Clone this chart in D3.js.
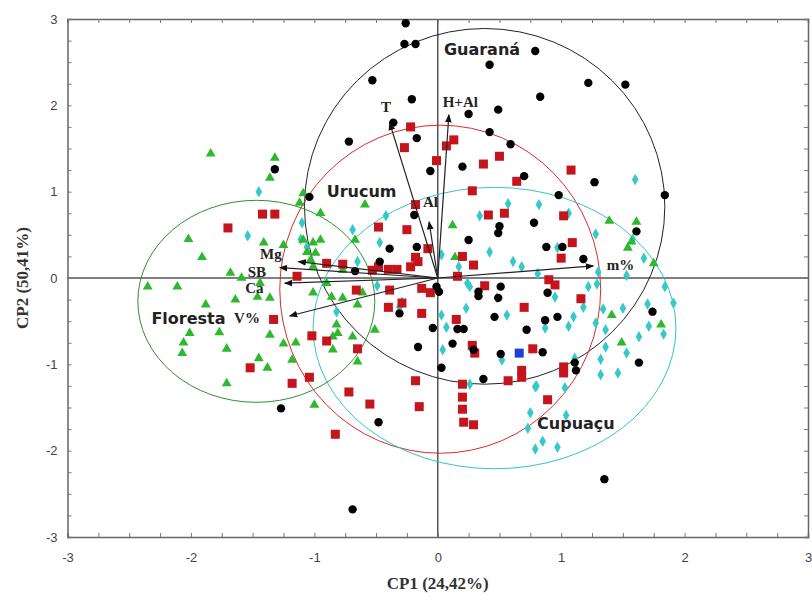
<!DOCTYPE html>
<html>
<head>
<meta charset="utf-8">
<script src="https://cdn.jsdelivr.net/npm/d3@7"></script>
<style>
  body { margin: 0; background: #fff; }
  svg { display: block; }
</style>
</head>
<body>
<svg></svg>
<script>
// CP1 / CP2 scores
const guarana = [
  [-0.26,2.95],[-0.27,2.71],[-0.18,2.71],[0.79,2.63],[0.42,2.47],[-0.53,2.29],[-0.21,2.07],[0.83,2.10],
  [0.25,1.90],[0.49,1.95],[-0.36,1.80],[-0.72,1.58],[-0.17,1.62],[0.42,1.69],[0.59,1.55],[0.20,1.29],
  [-0.06,1.24],[0.70,1.18],[-1.04,0.94],[1.22,2.26],[1.52,2.24],[1.27,1.11],[1.84,0.96],[-1.32,1.26],
  [-0.19,0.73],[0.78,0.64],[0.50,0.60],[0.49,0.52],[0.25,0.44],[-0.39,0.34],[-0.17,0.36],[0.88,0.36],
  [-0.47,0.19],[-0.67,0.08],[-0.01,-0.10],[0.01,-0.16],[0.33,-0.16],[0.33,-0.21],[0.51,-0.10],[0.89,-0.17],
  [0.49,-0.23],[-0.31,-0.41],[0.46,-0.45],[0.87,-0.49],[0.97,-0.45],[-0.04,-0.58],[0.16,-0.59],[0.21,-0.59],
  [0.72,-0.60],[-0.16,-0.80],[0.12,-0.76],[0.29,-0.83],[0.51,-0.88],[0.85,-0.86],[0.03,-1.04],[0.37,-1.17],
  [0.98,0.96],[1.61,0.54],[1.18,0.22],[1.01,0.36],[1.74,-0.39],[1.63,-0.98],[1.11,-0.98],[1.12,-1.07],
  [-1.27,-1.51],[-0.48,-1.67],[-0.69,-2.68],[1.35,-2.33]
];
const urucum = [
  [-0.22,1.75],[-0.27,1.51],[0.07,1.53],[0.13,1.60],[-0.01,1.36],[0.37,1.32],[0.50,1.41],[0.64,1.12],
  [0.28,1.01],[1.08,1.25],[-1.42,0.74],[-1.32,0.74],[-1.70,0.58],[-1.14,0.02],[-1.33,-0.48],[-1.52,-1.04],
  [-1.18,-1.22],[-1.04,-1.15],[-0.18,0.85],[-0.48,0.59],[-0.25,0.56],[0.54,0.75],[0.41,0.73],[-0.08,0.34],
  [-0.18,0.24],[-0.16,0.19],[-0.22,0.13],[0.20,0.25],[0.29,0.15],[-0.48,0.13],[-0.53,0.09],[-0.33,0.10],
  [-0.40,0.10],[-0.77,0.16],[-0.90,0.17],[0.16,0.02],[0.90,-0.02],[0.95,-0.08],[0.38,-0.09],[-0.66,-0.14],
  [-0.39,-0.14],[-0.13,-0.12],[-0.06,-0.17],[-0.29,-0.29],[0.70,-0.34],[-0.40,-0.34],[-0.13,-0.41],[0.15,-0.48],
  [-1.02,-0.67],[-0.90,-0.73],[-0.65,-0.82],[0.28,-0.78],[0.30,-0.87],[0.77,-0.82],[0.68,-1.07],[0.68,-1.15],
  [-0.18,-1.19],[0.20,-1.23],[0.57,-1.19],[1.02,0.72],[1.09,0.41],[1.00,0.23],[1.16,-0.24],[1.02,-1.03],
  [1.02,-1.10],[-0.72,-1.32],[-0.55,-1.46],[-0.15,-1.49],[-0.83,-1.81],[0.20,-1.38],[0.20,-1.52],[0.21,-1.67],
  [0.29,-1.70],[0.89,-1.41]
];
const cupuacu = [
  [-1.45,1.00],[-1.54,0.49],[-1.11,0.45],[-1.06,0.36],[-1.10,0.64],[-0.69,0.56],[-0.42,0.72],[-0.47,0.41],
  [-0.65,0.19],[0.57,0.86],[0.82,0.85],[0.34,0.72],[0.42,0.30],[0.61,0.19],[0.68,0.13],[0.81,0.05],
  [0.03,0.27],[0.17,0.13],[0.24,-0.06],[0.26,-0.10],[-0.29,-0.28],[-0.31,-0.34],[0.23,-0.35],[0.48,-0.23],
  [0.03,-0.43],[0.56,-0.43],[0.07,-0.57],[0.87,-0.58],[-0.49,-0.09],[-0.82,-0.39],[0.04,-0.83],[0.52,-0.95],
  [0.79,-1.26],[0.97,0.35],[1.06,0.75],[1.28,0.51],[1.30,0.07],[1.53,0.03],[1.67,0.23],[1.58,0.45],
  [1.22,-0.10],[1.29,-0.07],[0.95,-0.22],[1.18,-0.34],[1.34,-0.36],[1.50,-0.35],[1.84,-0.10],[1.91,-0.29],
  [1.70,-0.30],[1.10,-0.45],[1.06,-0.56],[1.36,-0.60],[1.28,-0.52],[1.71,-0.56],[1.83,-0.65],[1.63,-0.68],
  [1.36,-0.80],[1.53,-0.87],[1.11,-0.93],[1.32,-0.94],[1.32,-1.12],[1.46,-1.10],[1.03,-1.27],[1.04,-1.59],
  [0.97,-1.96],[0.26,-1.23],[0.80,-1.25],[0.75,-1.56],[0.73,-1.74],[0.85,-1.89],[0.79,-1.98],[1.60,1.14]
];
const floresta = [
  [-1.84,1.44],[-1.32,1.39],[-1.36,1.16],[-1.09,0.98],[-2.02,0.45],[-1.91,0.24],[-1.41,0.41],[-1.25,0.38],
  [-2.35,-0.10],[-2.11,-0.10],[-1.68,0.06],[-1.59,0.00],[-1.44,-0.06],[-1.46,-0.22],[-1.36,-0.23],[-1.64,-0.25],
  [-1.88,-0.31],[-2.01,-0.64],[-1.77,-0.63],[-2.06,-0.75],[-2.07,-0.87],[-1.71,-0.82],[-1.36,-0.66],[-1.25,-0.76],
  [-1.15,-0.75],[-1.45,-0.93],[-1.38,-1.04],[-1.18,-0.95],[-1.71,-1.22],[-1.12,0.87],[-0.59,0.85],[-0.95,0.75],
  [0.12,0.61],[0.14,0.24],[-0.67,0.44],[-1.09,0.44],[-1.01,0.41],[-0.95,0.44],[-1.06,0.30],[-0.99,0.29],
  [-1.03,0.21],[-1.01,0.13],[-0.77,0.09],[-0.90,-0.06],[-1.01,-0.17],[-0.86,-0.22],[-0.77,-0.23],[-0.61,-0.17],
  [-0.65,-0.31],[-0.51,-0.60],[-0.82,-0.54],[-0.85,-0.68],[-0.81,-0.64],[-0.69,-0.68],[-0.85,-0.83],[-0.65,-0.97],
  [1.39,0.66],[1.61,0.65],[1.57,0.42],[1.54,0.35],[1.75,0.17],[1.41,-0.43],[1.81,-0.54],[1.49,-0.75],
  [-1.00,-1.47]
];
const outlier = [[0.66,-0.87]];

// confidence ellipses: centre x, centre y, radius x, radius y
const groups = ['Guaraná', 'Urucum', 'Cupuaçu', 'Floresta'];
const ellipseCx = [0.38, 0.02, 0.46, -1.47];
const ellipseCy = [0.83, -0.13, -0.58, -0.27];
const ellipseRx = [1.46, 1.30, 1.47, 0.96];
const ellipseRy = [2.06, 1.90, 1.63, 1.17];
const groupColors = ['#222', '#e0282c', '#33c4cc', '#2f8f2f'];
const groupLabelPos = [[0.05, 2.58], [-0.90, 0.94], [0.805, -1.75], [-2.32, -0.53]];

// loading vectors
const vars = ['T', 'H+Al', 'Al', 'm%', 'Mg', 'SB', 'Ca', 'V%'];
const loadX = [-0.39, 0.09, -0.07, 1.26, -1.13, -1.28, -1.24, -1.20];
const loadY = [1.80, 1.89, 0.65, 0.14, 0.19, 0.12, -0.06, -0.44];
const varLabelPos = [[-0.46, 1.92], [0.04, 1.98], [-0.12, 0.82], [1.37, 0.09], [-1.44, 0.22], [-1.54, 0.01], [-1.56, -0.17], [-1.65, -0.52]];

const axisTicks = d3.range(-3, 3.001, 0.25);

const width = 812;
const height = 601;
const plotLeft = 67.5, plotRight = 808, plotTop = 19, plotBottom = 537;

let svg = d3.select('svg').attr('width', width).attr('height', height);

let xScale = d3.scaleLinear().domain([-3, 3]).range([plotLeft, plotRight]);
let yScale = d3.scaleLinear().domain([-3, 3]).range([plotBottom, plotTop]);

const fmt = d => Number.isInteger(d) ? String(d) : '';

function drawAxes () {
    // zero lines
    svg.append('line').attr('x1', plotLeft).attr('x2', plotRight)
        .attr('y1', yScale(0)).attr('y2', yScale(0))
        .attr('stroke', '#555').attr('stroke-width', 1.5);
    svg.append('line').attr('y1', plotTop).attr('y2', plotBottom)
        .attr('x1', xScale(0)).attr('x2', xScale(0))
        .attr('stroke', '#555').attr('stroke-width', 1.5);

    let bottomAxis = d3.axisBottom(xScale).tickValues(axisTicks).tickSize(-4).tickPadding(16).tickFormat(fmt);
    let topAxis = d3.axisTop(xScale).tickValues(axisTicks).tickSize(-4).tickFormat('');
    let leftAxis = d3.axisLeft(yScale).tickValues(axisTicks).tickSize(-4).tickPadding(10).tickFormat(fmt);
    let rightAxis = d3.axisRight(yScale).tickValues(axisTicks).tickSize(-4).tickFormat('');

    svg.append('g').attr('transform', 'translate(0,' + plotBottom + ')').call(bottomAxis);
    svg.append('g').attr('transform', 'translate(0,' + plotTop + ')').call(topAxis);
    svg.append('g').attr('transform', 'translate(' + plotLeft + ',0)').call(leftAxis);
    svg.append('g').attr('transform', 'translate(' + plotRight + ',0)').call(rightAxis);

    svg.selectAll('.domain').attr('stroke', '#666').attr('stroke-width', 1.5);
    svg.selectAll('.tick line').attr('stroke', '#777');
    svg.selectAll('.tick text')
        .attr('font-family', 'Liberation Sans, Arial, sans-serif')
        .attr('font-size', 13).attr('fill', '#444');

    svg.append('text')
        .attr('x', (plotLeft + plotRight) / 2).attr('y', 589)
        .attr('text-anchor', 'middle')
        .attr('font-family', 'Liberation Serif, Times New Roman, serif')
        .attr('font-weight', 'bold').attr('font-size', 17).attr('fill', '#333')
        .text('CP1 (24,42%)');
    svg.append('text')
        .attr('transform', 'translate(28,' + yScale(0) + ') rotate(-90)')
        .attr('text-anchor', 'middle')
        .attr('font-family', 'Liberation Serif, Times New Roman, serif')
        .attr('font-weight', 'bold').attr('font-size', 17).attr('fill', '#333')
        .text('CP2 (50,41%)');
}

function drawEllipses () {
    svg.selectAll('ellipse')
        .data(groups)
        .enter()
        .append('ellipse')
        .attr('cx', (d, i) => xScale(ellipseCx[i]))
        .attr('cy', (d, i) => yScale(ellipseCy[i]))
        .attr('rx', (d, i) => xScale(ellipseRx[i]) - xScale(0))
        .attr('ry', (d, i) => yScale(0) - yScale(ellipseRy[i]))
        .attr('fill', 'none')
        .attr('stroke', (d, i) => groupColors[i])
        .attr('stroke-width', 1);
}

function drawPoints () {
    let g = svg.append('g');
    g.selectAll('.cup').data(cupuacu).enter().append('path')
        .attr('d', d3.symbol(d3.symbolDiamond, 38))
        .attr('transform', d => 'translate(' + xScale(d[0]) + ',' + yScale(d[1]) + ')')
        .attr('fill', '#36c9c9');
    g.selectAll('.flo').data(floresta).enter().append('path')
        .attr('d', d3.symbol(d3.symbolTriangle, 42))
        .attr('transform', d => 'translate(' + xScale(d[0]) + ',' + yScale(d[1]) + ')')
        .attr('fill', '#2eb82e');
    g.selectAll('.uru').data(urucum).enter().append('rect')
        .attr('x', d => xScale(d[0]) - 4.5)
        .attr('y', d => yScale(d[1]) - 4.5)
        .attr('width', 9).attr('height', 9)
        .attr('fill', '#c4141c');
    g.selectAll('.gua').data(guarana).enter().append('circle')
        .attr('cx', d => xScale(d[0]))
        .attr('cy', d => yScale(d[1]))
        .attr('r', 4.2)
        .attr('fill', '#000');
    g.selectAll('.out').data(outlier).enter().append('rect')
        .attr('x', d => xScale(d[0]) - 4.5)
        .attr('y', d => yScale(d[1]) - 4.5)
        .attr('width', 9).attr('height', 9)
        .attr('fill', '#1f3fd6');
}

function drawVectors () {
    svg.append('defs').append('marker')
        .attr('id', 'arrow')
        .attr('viewBox', '0 0 10 10')
        .attr('refX', 9).attr('refY', 5)
        .attr('markerWidth', 7).attr('markerHeight', 7)
        .attr('orient', 'auto')
        .append('path').attr('d', 'M0,1 L10,5 L0,9 Z').attr('fill', '#111');

    svg.selectAll('.vec')
        .data(vars)
        .enter()
        .append('line')
        .attr('x1', xScale(0)).attr('y1', yScale(0))
        .attr('x2', (d, i) => xScale(loadX[i]))
        .attr('y2', (d, i) => yScale(loadY[i]))
        .attr('stroke', '#222').attr('stroke-width', 1.2)
        .attr('marker-end', 'url(#arrow)');

    svg.selectAll('.vlab')
        .data(vars)
        .enter()
        .append('text')
        .attr('x', (d, i) => xScale(varLabelPos[i][0]))
        .attr('y', (d, i) => yScale(varLabelPos[i][1]))
        .attr('font-family', 'Liberation Serif, Times New Roman, serif')
        .attr('font-weight', 'bold').attr('font-size', 15).attr('fill', '#222')
        .text(d => d);
}

function drawGroupLabels () {
    svg.selectAll('.glab')
        .data(groups)
        .enter()
        .append('text')
        .attr('x', (d, i) => xScale(groupLabelPos[i][0]))
        .attr('y', (d, i) => yScale(groupLabelPos[i][1]))
        .attr('font-family', 'DejaVu Sans, Verdana, sans-serif')
        .attr('font-weight', 'bold').attr('font-size', 16).attr('fill', '#222')
        .text(d => d);
}

drawAxes();
drawEllipses();
drawPoints();
drawVectors();
drawGroupLabels();
</script>
</body>
</html>
